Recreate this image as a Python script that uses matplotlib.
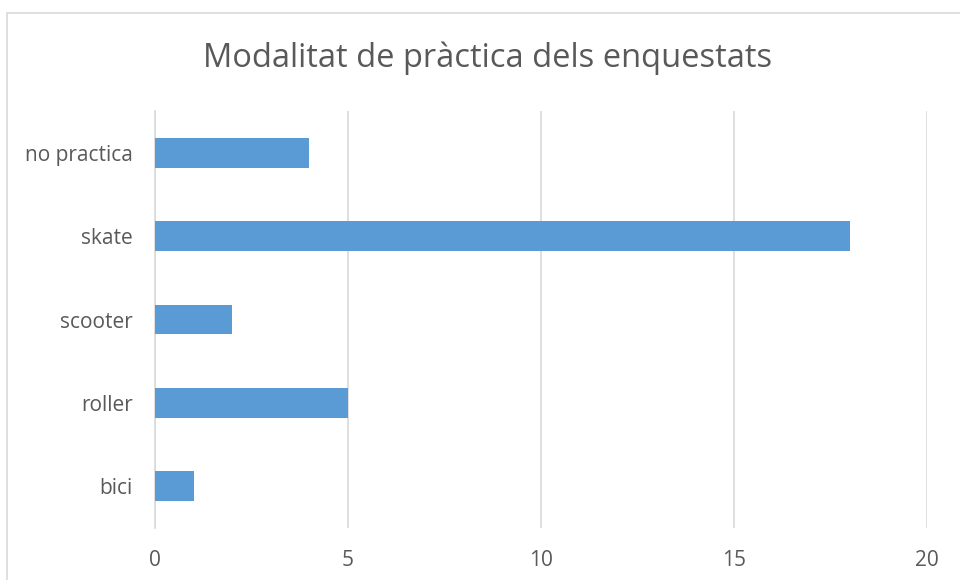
import matplotlib.pyplot as plt
from matplotlib.patches import Rectangle

categories = ['bici', 'roller', 'scooter', 'skate', 'no practica']
values = [1, 5, 2, 18, 4]
xticks = [0, 5, 10, 15, 20]
title = 'Modalitat de pràctica dels enquestats'

plt.rcParams['font.family'] = ['Open Sans', 'DejaVu Sans']
text_col = '#595959'
grid_col = '#D9D9D9'

fig = plt.figure(figsize=(9.6, 5.8), dpi=100)
ax = fig.add_axes([155 / 960, 1 - 527.7 / 580, 772 / 960, 416.4 / 580])

# marc del grafic
fig.patches.append(Rectangle((7 / 960, -0.05), 1.0, 1 - 13 / 580 + 0.05,
                             transform=fig.transFigure, fill=False,
                             edgecolor=grid_col, linewidth=1.2))

ax.barh(range(len(categories)), values, height=0.36, color='#5B9BD5', zorder=3)

ax.set_xlim(0, 20)
ax.set_ylim(-0.5, len(categories) - 0.5)
ax.set_xticks(xticks)
ax.set_yticks(range(len(categories)))
ax.set_yticklabels(categories)
ax.xaxis.grid(True, color=grid_col, linewidth=1.2, zorder=0)
ax.tick_params(length=0, labelsize=15, colors=text_col)
ax.tick_params(axis='x', pad=16)
ax.tick_params(axis='y', pad=16)
for s in ['top', 'right', 'bottom']:
    ax.spines[s].set_visible(False)
ax.spines['left'].set_color(grid_col)
ax.spines['left'].set_linewidth(1.2)

fig.text(488 / 960, 1 - 58 / 580, title, ha='center', va='center',
         fontsize=23.5, color=text_col)

fig.savefig('out.png', dpi=100)
